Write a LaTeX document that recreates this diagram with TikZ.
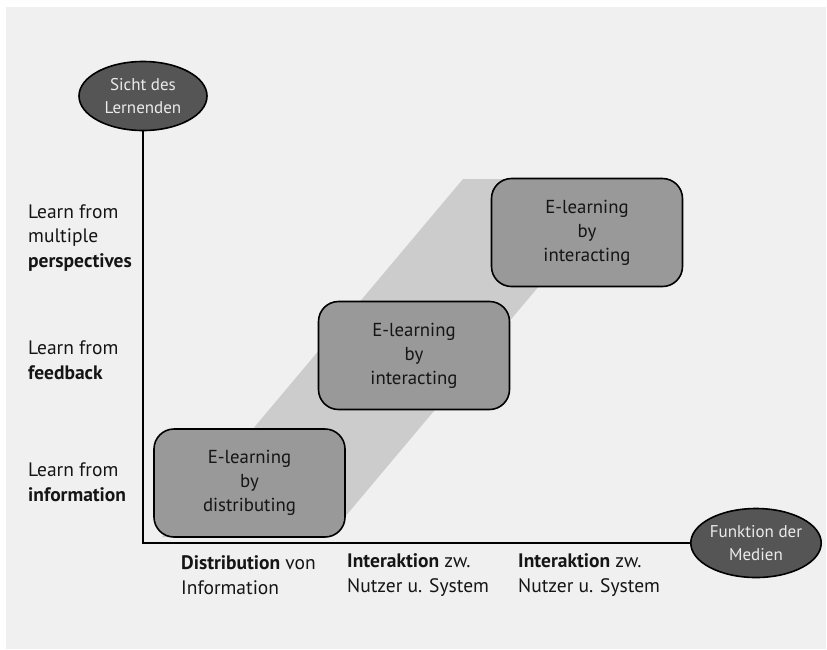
\documentclass[tikz,border=0pt]{standalone}
\usepackage{fontspec}
\setmainfont{PT Sans}
\usetikzlibrary{shapes.geometric}

\definecolor{paper}{HTML}{F0F0F0}
\definecolor{bandgray}{HTML}{CCCCCC}
\definecolor{boxgray}{HTML}{999999}
\definecolor{ovalgray}{HTML}{555555}
\definecolor{inkgray}{HTML}{151515}

\tikzset{
	axisoval/.style={ellipse, draw=black, line width=1.6pt, fill=ovalgray,
		text=white!92!black, minimum width=128pt, minimum height=69pt,
		inner sep=0pt, align=center, font=\fontsize{17}{22.5}\selectfont},
	stagebox/.style={rectangle, rounded corners=20pt, draw=black, line width=1.6pt,
		fill=boxgray, text=inkgray, minimum width=191pt, minimum height=108pt,
		align=center, font=\fontsize{18.8}{24}\selectfont},
	levellabel/.style={anchor=west, align=left, text=inkgray, inner sep=0pt,
		font=\fontsize{19.5}{24.5}\selectfont},
}

\begin{document}
\begin{tikzpicture}[x=1pt, y=-1pt]
			\useasboundingbox (0,0) rectangle (827,649);
			\fill[white] (0,0) rectangle (827,649);
			\fill[paper] (6,7) rectangle (826,649);

			% band behind the stages
			\fill[bandgray] (463,179) -- (629,179) -- (328,537) -- (162,537) -- cycle;

			% axes
			\node[axisoval] (sicht) at (143,96) {Sicht des\\Lernenden};
			\node[axisoval] (funktion) at (756,543) {Funktion der\\Medien};
			\draw[line width=1.5pt] (sicht.south) |- (funktion.west);

			% stages
			\node[stagebox] (distributing) at (249.5,483) {E-learning\\by\\distributing};
			\node[stagebox] (interactingA) at (414,355.5) {E-learning\\by\\interacting};
			\node[stagebox] (interactingB) at (587,232.5) {E-learning\\by\\interacting};

			% levels (vertical axis)
			\node[levellabel] (perspectives) at (28,238) {Learn from\\multiple\\\textbf{perspectives}};
			\node[levellabel] (feedback) at (28,360) {Learn from\\\textbf{feedback}};
			\node[levellabel] (information) at (28,482) {Learn from\\\textbf{information}};

			% functions (horizontal axis)
			\node[levellabel] (distribution) at (181,575) {\textbf{Distribution} von\\Information};
			\node[levellabel] (interaktionA) at (347,575) {\textbf{Interaktion} zw.\\Nutzer u. System};
			\node[levellabel] (interaktionB) at (518,575) {\textbf{Interaktion} zw.\\Nutzer u. System};
		\end{tikzpicture}
\end{document}
